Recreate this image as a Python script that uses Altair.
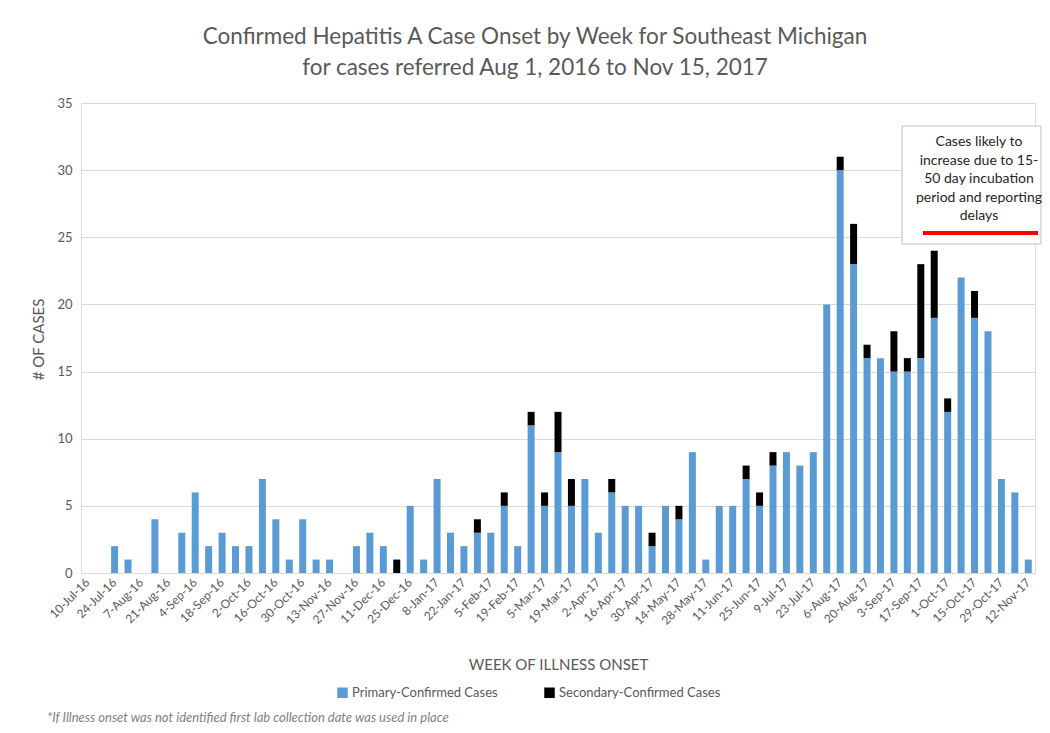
import altair as alt
import pandas as pd

weeks = [d.strftime("%-d-%b-%y") for d in pd.date_range("2016-07-10", periods=71, freq="7D")]

primary = [0, 0, 2, 1, 0, 4, 0, 3, 6, 2, 3, 2, 2, 7, 4, 1, 4, 1, 1, 0,
           2, 3, 2, 0, 5, 1, 7, 3, 2, 3, 3, 5, 2, 11, 5, 9, 5, 7, 3, 6,
           5, 5, 2, 5, 4, 9, 1, 5, 5, 7, 5, 8, 9, 8, 9, 20, 30, 23, 16, 16,
           15, 15, 16, 19, 12, 22, 19, 18, 7, 6, 1]
secondary = [0, 0, 0, 0, 0, 0, 0, 0, 0, 0, 0, 0, 0, 0, 0, 0, 0, 0, 0, 0,
             0, 0, 0, 1, 0, 0, 0, 0, 0, 1, 0, 1, 0, 1, 1, 3, 2, 0, 0, 1,
             0, 0, 1, 0, 1, 0, 0, 0, 0, 1, 1, 1, 0, 0, 0, 0, 1, 3, 1, 0,
             3, 1, 7, 5, 1, 0, 2, 0, 0, 0, 0]
series_names = ["Primary-Confirmed Cases", "Secondary-Confirmed Cases"]
series_colors = ["#5b9bd5", "#000000"]
annotation_lines = ["Cases likely to", "increase due to 15-", "50 day incubation",
                    "period and reporting", "delays"]
footnote = "*If Illness onset was not identified first lab collection  date was used in place"
title_lines = ["Confirmed Hepatitis A Case Onset by Week for Southeast Michigan",
               "for cases referred  Aug 1, 2016 to Nov 15, 2017"]

rows = []
for w, p, s in zip(weeks, primary, secondary):
    rows.append({"week": w, "series": series_names[0], "value": p, "ord": 0})
    rows.append({"week": w, "series": series_names[1], "value": s, "ord": 1})
df = pd.DataFrame(rows)

FONT = "Lato"
GRAY = "#595959"

bars = alt.Chart(df).mark_bar(size=7).encode(
    x=alt.X("week:N", sort=weeks,
            scale=alt.Scale(paddingInner=0, paddingOuter=0),
            axis=alt.Axis(values=weeks[::2], labelAngle=-45, labelAlign="right",
                          labelBaseline="middle", labelPadding=7, ticks=False,
                          labelFontSize=12, labelColor=GRAY, labelFont=FONT,
                          domainColor="#d9d9d9", grid=False,
                          title="WEEK OF ILLNESS ONSET", titleFont=FONT,
                          titleFontSize=15, titleFontWeight="normal", titleColor=GRAY,
                          titleY=84, titleX=477, titleAnchor="middle")),
    y=alt.Y("value:Q", stack="zero",
            scale=alt.Scale(domain=[0, 35]),
            axis=alt.Axis(values=list(range(0, 36, 5)), ticks=False, domain=False,
                          gridColor="#d9d9d9", labelFontSize=13, labelColor=GRAY,
                          labelFont=FONT, labelPadding=9,
                          title="# OF CASES", titleFont=FONT, titleFontSize=15,
                          titleFontWeight="normal", titleColor=GRAY,
                          titleX=-43, titleY=236, titleAnchor="middle",
                          titleBaseline="middle")),
    color=alt.Color("series:N",
                    scale=alt.Scale(domain=series_names, range=series_colors),
                    legend=alt.Legend(orient="none", legendX=255, legendY=583,
                                      direction="horizontal", title=None,
                                      symbolType="square", symbolSize=110,
                                      symbolStrokeWidth=0, labelFont=FONT,
                                      labelFontSize=13, labelColor=GRAY,
                                      labelLimit=0,
                                      columnPadding=45, labelOffset=3)),
    order=alt.Order("ord:Q"),
)

one = pd.DataFrame({"k": [0]})

box = alt.Chart(one).mark_rect(fill="white", stroke="#bfbfbf", strokeWidth=1).encode(
    x=alt.value(821), x2=alt.value(960), y=alt.value(23), y2=alt.value(141))

red = alt.Chart(one).mark_rule(color="#ff0000", strokeWidth=4).encode(
    x=alt.value(842), x2=alt.value(957), y=alt.value(130))

ann = alt.Chart(pd.DataFrame({"t": [annotation_lines]})).mark_text(
    font=FONT, fontSize=14, color="#262626", align="center", baseline="middle",
    lineHeight=18.5).encode(text="t", x=alt.value(898), y=alt.value(39))

foot = alt.Chart(pd.DataFrame({"t": [footnote]})).mark_text(
    font=FONT, fontSize=13, fontStyle="italic", color="#7f7f7f", align="left",
    baseline="middle").encode(text="t", x=alt.value(-34), y=alt.value(615))

chart = alt.layer(bars, box, red, ann, foot).properties(
    width=954, height=470,
    autosize=alt.AutoSizeParams(type="none"),
    padding={"left": 73, "top": 95, "right": 7, "bottom": 152},
    title=alt.TitleParams(text=title_lines, font=FONT, fontSize=22.5,
                          fontWeight="normal", color=GRAY, anchor="middle",
                          frame="group", dx=-23, offset=18, lineHeight=31),
).configure_view(stroke=None).configure(background="white")

chart.save("out.html", embed_options={"renderer": "svg", "actions": False})
